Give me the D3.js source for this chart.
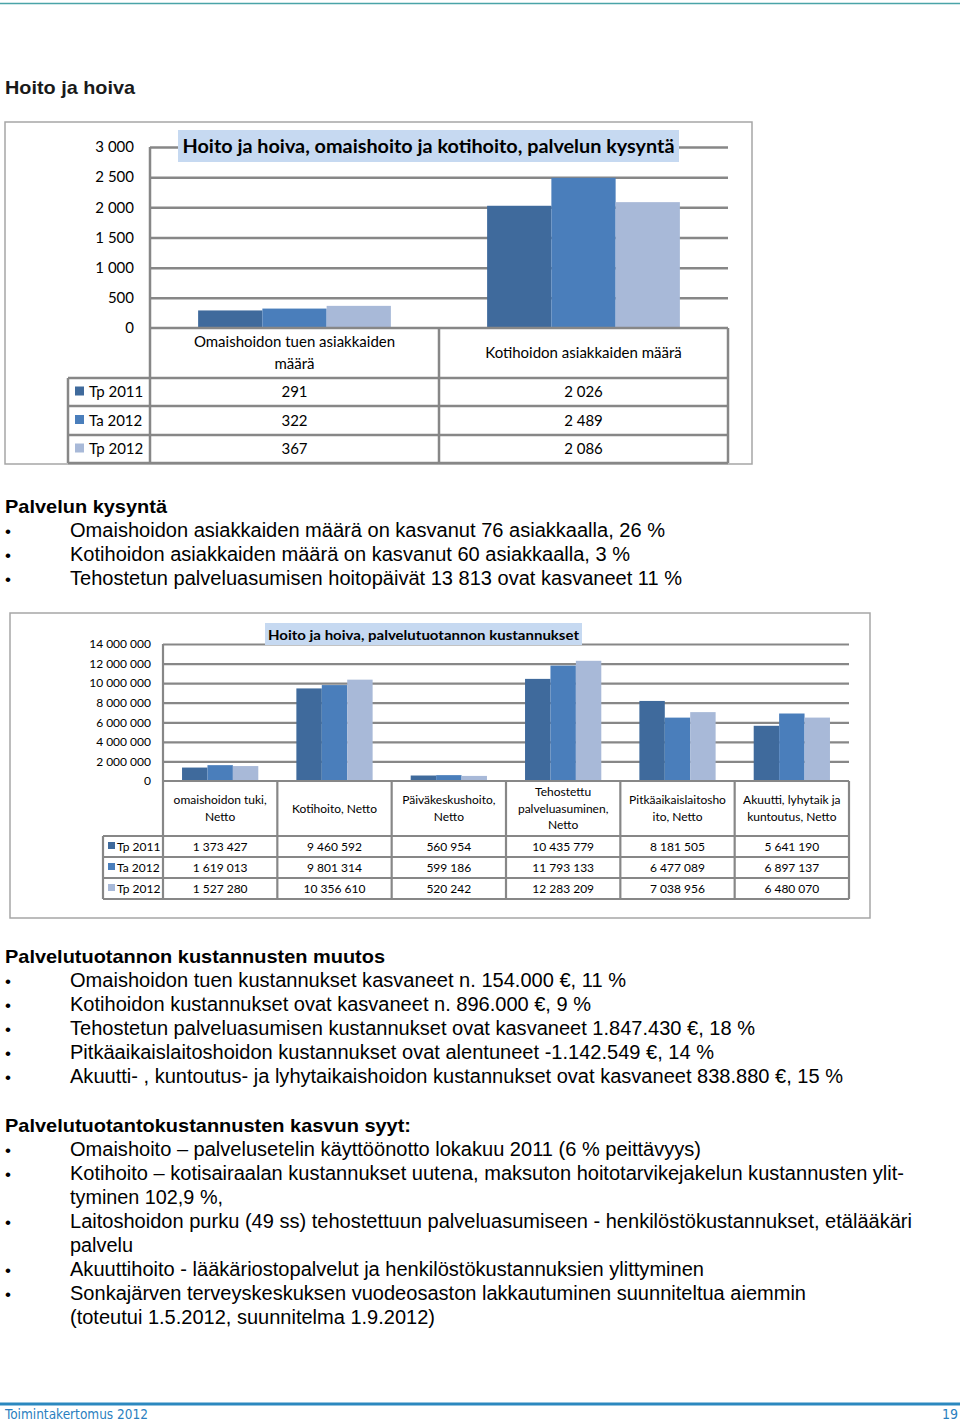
<!DOCTYPE html>
<html>
<head>
<meta charset="utf-8">
<script src="https://cdn.jsdelivr.net/npm/d3@7"></script>
<style>
  html, body { margin: 0; padding: 0; background: #fff; }
  svg { display: block; }
</style>
</head>
<body>
<script>
// ---------- DATA ----------
const seriesNames = ["Tp 2011", "Ta 2012", "Tp 2012"];
const seriesColors = ["#3f6a9c", "#4a7ebb", "#a8b9d8"];

const demandTitle = "Hoito ja hoiva, omaishoito ja kotihoito, palvelun kysyntä";
const demandCategories = [["Omaishoidon tuen asiakkaiden", "määrä"], ["Kotihoidon asiakkaiden määrä"]];
const demandTp2011 = [291, 2026];
const demandTa2012 = [322, 2489];
const demandTp2012 = [367, 2086];
const demandTicks = [0, 500, 1000, 1500, 2000, 2500, 3000];

const costTitle = "Hoito ja hoiva, palvelutuotannon kustannukset";
const costCategories = [
  ["omaishoidon tuki,", "Netto"],
  ["Kotihoito, Netto"],
  ["Päiväkeskushoito,", "Netto"],
  ["Tehostettu", "palveluasuminen,", "Netto"],
  ["Pitkäaikaislaitosho", "ito, Netto"],
  ["Akuutti, lyhytaik ja", "kuntoutus, Netto"]
];
const costTp2011 = [1373427, 9460592, 560954, 10435779, 8181505, 5641190];
const costTa2012 = [1619013, 9801314, 599186, 11793133, 6477089, 6897137];
const costTp2012 = [1527280, 10356610, 520242, 12283209, 7038956, 6480070];
const costTicks = [0, 2000000, 4000000, 6000000, 8000000, 10000000, 12000000, 14000000];

const pageHeading = "Hoito ja hoiva";
const section1Heading = "Palvelun kysyntä";
const section1Bullets = [
  ["Omaishoidon asiakkaiden määrä on kasvanut 76 asiakkaalla, 26 %"],
  ["Kotihoidon asiakkaiden määrä on kasvanut 60 asiakkaalla, 3 %"],
  ["Tehostetun palveluasumisen hoitopäivät 13 813 ovat kasvaneet 11 %"]
];
const section2Heading = "Palvelutuotannon kustannusten muutos";
const section2Bullets = [
  ["Omaishoidon tuen kustannukset kasvaneet n. 154.000 €, 11 %"],
  ["Kotihoidon kustannukset ovat kasvaneet n. 896.000 €, 9 %"],
  ["Tehostetun palveluasumisen kustannukset ovat kasvaneet 1.847.430 €, 18 %"],
  ["Pitkäaikaislaitoshoidon kustannukset ovat alentuneet -1.142.549 €, 14 %"],
  ["Akuutti- , kuntoutus- ja lyhytaikaishoidon kustannukset ovat kasvaneet 838.880 €, 15 %"]
];
const section3Heading = "Palvelutuotantokustannusten kasvun syyt:";
const section3Bullets = [
  ["Omaishoito – palvelusetelin käyttöönotto lokakuu 2011 (6 % peittävyys)"],
  ["Kotihoito – kotisairaalan kustannukset uutena, maksuton hoitotarvikejakelun kustannusten ylit-", "tyminen 102,9 %,"],
  ["Laitoshoidon purku (49 ss) tehostettuun palveluasumiseen - henkilöstökustannukset, etälääkäri", "palvelu"],
  ["Akuuttihoito - lääkäriostopalvelut ja henkilöstökustannuksien ylittyminen"],
  ["Sonkajärven terveyskeskuksen vuodeosaston lakkautuminen suunniteltua aiemmin", "(toteutui 1.5.2012, suunnitelma 1.9.2012)"]
];
const footerLeft = "Toimintakertomus 2012";
const footerRight = "19";

// ---------- HELPERS ----------
const fmt = v => d3.format(",")(v).replace(/,/g, " ");
const W = 960, H = 1422;
const chartFont = "Lato, 'Open Sans', sans-serif";
const bodyFont = "'Liberation Sans', Arial, sans-serif";
const gridColor = "#878787";

const svg = d3.select("body").append("svg").attr("width", W).attr("height", H);

// top rule
svg.append("line").attr("x1", 0).attr("x2", W).attr("y1", 3.5).attr("y2", 3.5)
  .attr("stroke", "#4aa4a8").attr("stroke-width", 1.5);

svg.append("text").attr("x", 5).attr("y", 94).text(pageHeading)
  .attr("font-family", bodyFont).attr("font-size", 19).attr("font-weight", "bold").attr("fill", "#1a1a1a")
  .attr("textLength", 130).attr("lengthAdjust", "spacingAndGlyphs");

// ---------- GENERIC CHART ----------
function drawChart(cfg) {
  const g = svg.append("g");
  g.append("rect").attr("x", cfg.box[0]).attr("y", cfg.box[1]).attr("width", cfg.box[2]).attr("height", cfg.box[3])
    .attr("fill", "#fff").attr("stroke", "#a6a6a6").attr("stroke-width", 1.5);

  const cats = d3.range(cfg.categories.length);
  const x = d3.scaleBand().domain(cats).range([cfg.left, cfg.right]).paddingInner(0).paddingOuter(0);
  const y = d3.scaleLinear().domain([0, d3.max(cfg.ticks)]).range([cfg.bottom, cfg.top]);
  const groupW = x.bandwidth() * 0.667;
  const xs = d3.scaleBand().domain(d3.range(cfg.series.length)).range([0, groupW]).padding(0);

  // gridlines via axis
  const grid = d3.axisRight(y).tickValues(cfg.ticks.slice(1)).tickSize(cfg.right - cfg.left).tickFormat("");
  const gg = g.append("g").attr("transform", `translate(${cfg.left},0)`).call(grid);
  gg.select(".domain").remove();
  gg.selectAll("line").attr("stroke", gridColor).attr("stroke-width", cfg.lw);

  // y axis labels
  const ya = d3.axisLeft(y).tickValues(cfg.ticks).tickSize(0).tickPadding(0).tickFormat(fmt);
  const yag = g.append("g").attr("transform", `translate(${cfg.labelX},0)`).call(ya);
  yag.select(".domain").remove();
  yag.selectAll("text").attr("font-family", chartFont).attr("font-size", cfg.tickSize).attr("fill", "#000");

  // bars
  cfg.series.forEach((vals, si) => {
    g.append("g").selectAll("rect").data(vals).join("rect")
      .attr("x", (d, i) => x(i) + (x.bandwidth() - groupW) / 2 + xs(si))
      .attr("width", xs.bandwidth())
      .attr("y", d => y(d))
      .attr("height", d => y(0) - y(d))
      .attr("fill", seriesColors[si]);
  });

  // title box
  g.append("rect").attr("x", cfg.titleBox[0]).attr("y", cfg.titleBox[1]).attr("width", cfg.titleBox[2]).attr("height", cfg.titleBox[3])
    .attr("fill", "#c6d9f1");
  g.append("text").attr("x", cfg.titleBox[0] + cfg.titleBox[2] / 2).attr("y", cfg.titleBaseline)
    .attr("text-anchor", "middle").attr("font-family", chartFont).attr("font-weight", "bold")
    .attr("font-size", cfg.titleSize).attr("fill", "#000").text(cfg.title)
    .attr("textLength", cfg.titleLen).attr("lengthAdjust", "spacingAndGlyphs");

  // vertical axis line
  g.append("line").attr("x1", cfg.left).attr("x2", cfg.left).attr("y1", cfg.top).attr("y2", cfg.bottom)
    .attr("stroke", gridColor).attr("stroke-width", cfg.lw);

  // data table
  const rowYs = cfg.rows; // [headerBottom, row1Bottom, row2Bottom, row3Bottom]
  const tbl = g.append("g").attr("stroke", gridColor).attr("stroke-width", cfg.lw);
  // x-axis line / table top
  tbl.append("line").attr("x1", cfg.left).attr("x2", cfg.right).attr("y1", cfg.bottom).attr("y2", cfg.bottom);
  rowYs.forEach(ry => tbl.append("line").attr("x1", cfg.legendLeft).attr("x2", cfg.right).attr("y1", ry).attr("y2", ry));
  const edges = cats.map(i => x(i)).concat([cfg.right]);
  edges.forEach(ex => tbl.append("line").attr("x1", ex).attr("x2", ex).attr("y1", cfg.bottom).attr("y2", rowYs[3]));
  tbl.append("line").attr("x1", cfg.legendLeft).attr("x2", cfg.legendLeft).attr("y1", rowYs[0]).attr("y2", rowYs[3]);

  // header labels
  cfg.categories.forEach((lines, i) => {
    const cx = x(i) + x.bandwidth() / 2;
    const mid = (cfg.bottom + rowYs[0]) / 2;
    const n = lines.length;
    lines.forEach((ln, li) => {
      g.append("text").attr("x", cx).attr("y", mid + (li - (n - 1) / 2) * cfg.headLine)
        .attr("dy", "0.35em").attr("text-anchor", "middle").attr("font-family", chartFont)
        .attr("font-size", cfg.headSize).attr("fill", "#000").text(ln);
    });
  });

  // row values + legend
  cfg.series.forEach((vals, si) => {
    const top = rowYs[si], bot = rowYs[si + 1], my = (top + bot) / 2;
    vals.forEach((v, i) => {
      g.append("text").attr("x", x(i) + x.bandwidth() / 2).attr("y", my).attr("dy", "0.35em")
        .attr("text-anchor", "middle").attr("font-family", chartFont).attr("font-size", cfg.valSize)
        .attr("fill", "#000").text(fmt(v));
    });
    g.append("rect").attr("x", cfg.legendLeft + cfg.markOff).attr("y", my - cfg.markSize / 2 - 1)
      .attr("width", cfg.markSize).attr("height", cfg.markSize).attr("fill", seriesColors[si]);
    g.append("text").attr("x", cfg.legendLeft + cfg.legTextOff).attr("y", my).attr("dy", "0.35em")
      .attr("font-family", chartFont).attr("font-size", cfg.valSize).attr("fill", "#000").text(seriesNames[si]);
  });
}

drawChart({
  box: [5, 122, 747, 342],
  left: 150, right: 728, top: 147, bottom: 328,
  labelX: 134, tickSize: 15, lw: 2.5,
  categories: demandCategories, ticks: demandTicks,
  series: [demandTp2011, demandTa2012, demandTp2012],
  titleBox: [178, 130, 501, 32], titleBaseline: 153, titleSize: 19, titleLen: 492, title: demandTitle,
  rows: [378, 406, 435, 463], legendLeft: 68,
  headSize: 15, headLine: 22, valSize: 15, markSize: 9, markOff: 7, legTextOff: 21
});

drawChart({
  box: [10, 613, 860, 305],
  left: 163, right: 849, top: 644, bottom: 781,
  labelX: 151, tickSize: 12, lw: 2.2,
  categories: costCategories, ticks: costTicks,
  series: [costTp2011, costTa2012, costTp2012],
  titleBox: [265, 623, 317, 22], titleBaseline: 640, titleSize: 14, titleLen: 311, title: costTitle,
  rows: [836, 857, 878, 899], legendLeft: 103,
  headSize: 12, headLine: 16.5, valSize: 12, markSize: 7, markOff: 5, legTextOff: 14
});

// ---------- BODY TEXT ----------
function section(headY, heading, headLen, bullets, lens) {
  svg.append("text").attr("x", 5).attr("y", headY).text(heading)
    .attr("font-family", bodyFont).attr("font-size", 19).attr("font-weight", "bold").attr("fill", "#000")
    .attr("textLength", headLen).attr("lengthAdjust", "spacingAndGlyphs");
  let yy = headY + 24;
  let k = 0;
  bullets.forEach(lines => {
    svg.append("text").attr("x", 5).attr("y", yy).text("•")
      .attr("font-family", bodyFont).attr("font-size", 17).attr("fill", "#000");
    lines.forEach(ln => {
      svg.append("text").attr("x", 70).attr("y", yy).text(ln)
        .attr("font-family", bodyFont).attr("font-size", 19.5).attr("fill", "#000")
        .attr("textLength", lens[k]).attr("lengthAdjust", "spacingAndGlyphs");
      k++;
      yy += 24;
    });
  });
}
section(513, section1Heading, 162, section1Bullets, [595, 560, 612]);
section(963, section2Heading, 380, section2Bullets, [556, 521, 685, 644, 773]);
section(1132, section3Heading, 406, section3Bullets, [631, 834, 153, 842, 63, 634, 736, 365]);

// ---------- FOOTER ----------
svg.append("line").attr("x1", 0).attr("x2", W).attr("y1", 1404).attr("y2", 1404)
  .attr("stroke", "#2b88bf").attr("stroke-width", 3);
svg.append("text").attr("x", 5).attr("y", 1419).text(footerLeft)
  .attr("font-family", "'Liberation Sans Narrow', 'DejaVu Sans Condensed', sans-serif").attr("font-size", 14)
  .attr("fill", "#2b7fc0").attr("textLength", 143).attr("lengthAdjust", "spacingAndGlyphs");
svg.append("text").attr("x", 958).attr("y", 1419).attr("text-anchor", "end").text(footerRight)
  .attr("font-family", "'Liberation Sans Narrow', 'DejaVu Sans Condensed', sans-serif").attr("font-size", 14)
  .attr("fill", "#2b7fc0");
</script>
</body>
</html>
